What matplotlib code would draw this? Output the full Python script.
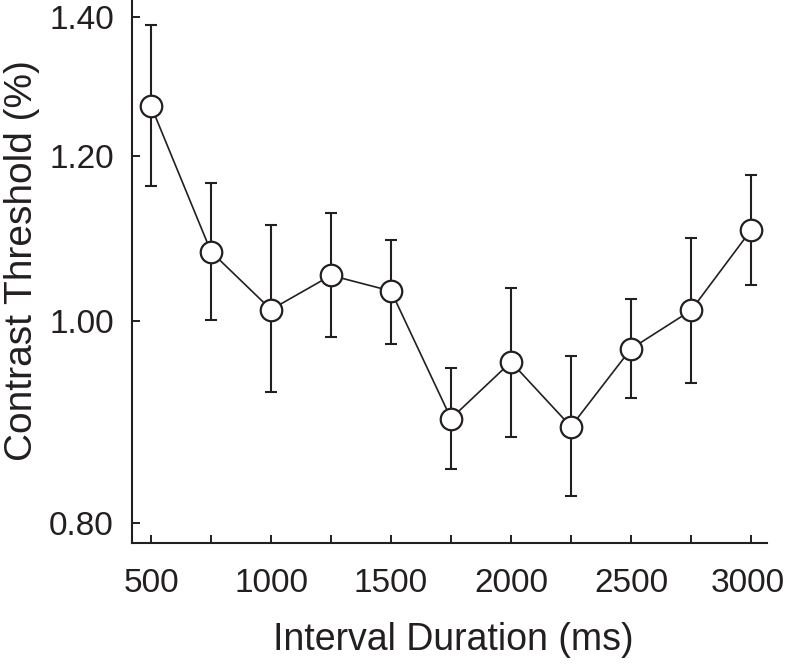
import numpy as np
import matplotlib
matplotlib.use("Agg")
import matplotlib.pyplot as plt
from matplotlib.ticker import FixedLocator, NullFormatter, NullLocator
from matplotlib.transforms import ScaledTranslation

plt.rcParams["font.family"] = ["Liberation Sans", "DejaVu Sans"]

# interval durations (ms) and contrast thresholds (%)
durations = [500, 750, 1000, 1250, 1500, 1750, 2000, 2250, 2500, 2750, 3000]
threshold = [1.269, 1.080, 1.013, 1.052, 1.034, 0.898, 0.956, 0.890, 0.970, 1.012, 1.106]
err_low = [1.161, 1.001, 0.925, 0.983, 0.975, 0.849, 0.880, 0.824, 0.919, 0.934, 1.041]
err_high = [1.388, 1.165, 1.112, 1.127, 1.094, 0.950, 1.038, 0.962, 1.025, 1.097, 1.175]

y_ticks = [0.80, 1.00, 1.20, 1.40]
x_ticks = [500, 750, 1000, 1250, 1500, 1750, 2000, 2250, 2500, 2750, 3000]
x_labelled = [500, 1000, 1500, 2000, 2500, 3000]

thr = np.array(threshold)
yerr = np.vstack([thr - np.array(err_low), np.array(err_high) - thr])

fig = plt.figure(figsize=(7.88, 6.65), dpi=100)
ax = fig.add_axes([132 / 788, 122 / 665, 635 / 788, 543 / 665])

ink = "#231f20"
ax.errorbar(durations, thr, yerr=yerr, fmt="none", ecolor=ink,
            elinewidth=1.5, capsize=4, capthick=1.5, zorder=2)
ax.plot(durations, thr, "-", color=ink, lw=1.2, zorder=3)
ax.plot(durations, thr, "o", ms=15.5, mfc="white", mec=ink, mew=1.6, zorder=4)

ax.set_yscale("log")
ax.set_ylim(0.7825, 1.4266)
ax.set_xlim(420.8, 3066.7)

ax.yaxis.set_major_locator(FixedLocator(y_ticks))
ax.yaxis.set_minor_locator(NullLocator())
ax.yaxis.set_minor_formatter(NullFormatter())
ax.set_yticklabels([f"{v:.2f}" for v in y_ticks])

ax.xaxis.set_major_locator(FixedLocator(x_ticks))
ax.set_xticklabels([str(v) if v in x_labelled else "" for v in x_ticks])

for side in ("top", "right"):
    ax.spines[side].set_visible(False)
for side in ("left", "bottom"):
    ax.spines[side].set_linewidth(1.5)
    ax.spines[side].set_color(ink)

ax.tick_params(axis="both", direction="in", length=6, width=1.4, color=ink,
               labelsize=24, labelcolor=ink)
ax.tick_params(axis="x", pad=18)
ax.tick_params(axis="y", pad=13)

# the last label sits a touch left of its tick in the original
last = ax.get_xticklabels()[-1]
last.set_transform(last.get_transform() + ScaledTranslation(-3 / 100, 0, fig.dpi_scale_trans))

ax.set_xlabel("Interval Duration (ms)", fontsize=27, color=ink)
ax.set_ylabel("Contrast Threshold (%)", fontsize=28, color=ink)
ax.xaxis.set_label_coords(0.5055, -0.146)
ax.yaxis.set_label_coords(-0.145, 0.521)

fig.savefig("out.png", dpi=100)
